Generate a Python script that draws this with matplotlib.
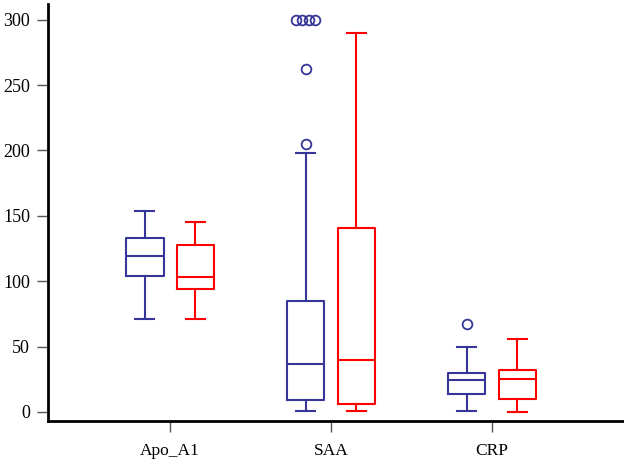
import numpy as np
import matplotlib
matplotlib.use('Agg')
import matplotlib.pyplot as plt

# 三个指标，每个指标两组
categories = ['Apo_A1', 'SAA', 'CRP']

# 蓝色组：下须, Q1, 中位数, Q3, 上须
blue_whislo = [71, 1, 1]
blue_q1 = [104, 9, 14]
blue_med = [119.5, 37, 24.5]
blue_q3 = [133, 85, 30]
blue_whishi = [154, 198, 50]
blue_fliers = [[], [205, 262, 300, 300, 300, 300], [67]]

# 红色组
red_whislo = [71, 1, 0]
red_q1 = [94, 6, 10]
red_med = [103, 40, 25]
red_q3 = [128, 141, 32]
red_whishi = [145, 290, 56]
red_fliers = [[], [], []]

BLUE = '#363698'
RED = '#ff0000'


def make_stats(whislo, q1, med, q3, whishi):
    stats = []
    for i in range(len(categories)):
        stats.append({'whislo': whislo[i], 'q1': q1[i], 'med': med[i],
                      'q3': q3[i], 'whishi': whishi[i], 'fliers': []})
    return stats


def draw_group(ax, stats, fliers, pos, color):
    lp = dict(color=color, linewidth=1.5)
    ax.bxp(stats, positions=pos, widths=0.235, boxprops=lp, medianprops=lp,
           whiskerprops=lp, capprops=lp, showfliers=False, manage_ticks=False)
    for x, vals in zip(pos, fliers):
        vals = np.asarray(vals, dtype=float)
        # 重复的离群点左右错开
        xs = np.full(len(vals), x)
        dup = vals == vals.max() if len(vals) else []
        n = int(np.sum(dup))
        if n > 1:
            xs[dup] = x + (np.arange(n) - (n - 1) / 2) * 0.04
        ax.plot(xs, vals, 'o', mfc='none', mec=color, ms=7, mew=1.3)


plt.rcParams['font.family'] = ['Liberation Serif', 'DejaVu Serif']
fig = plt.figure(figsize=(6.24, 4.61), dpi=100)
ax = fig.add_axes([48 / 624, 40 / 461, 576 / 624, 417 / 461])

x = np.arange(len(categories))
draw_group(ax, make_stats(blue_whislo, blue_q1, blue_med, blue_q3, blue_whishi),
           blue_fliers, x - 0.158, BLUE)
draw_group(ax, make_stats(red_whislo, red_q1, red_med, red_q3, red_whishi),
           red_fliers, x + 0.158, RED)

ax.set_xlim(-0.758, 2.82)
ax.set_ylim(-6.9, 312)
ax.set_xticks(x)
ax.set_xticklabels(categories, fontsize=12.5)
ax.set_yticks(np.arange(0, 301, 50))
ax.tick_params(axis='y', labelsize=13, length=8, width=1, color='#555555', pad=5)
ax.tick_params(axis='x', length=8, width=1, color='#555555', pad=8)
for s in ['top', 'right']:
    ax.spines[s].set_visible(False)
for s in ['left', 'bottom']:
    ax.spines[s].set_linewidth(2)

fig.savefig('out.png', dpi=100)
